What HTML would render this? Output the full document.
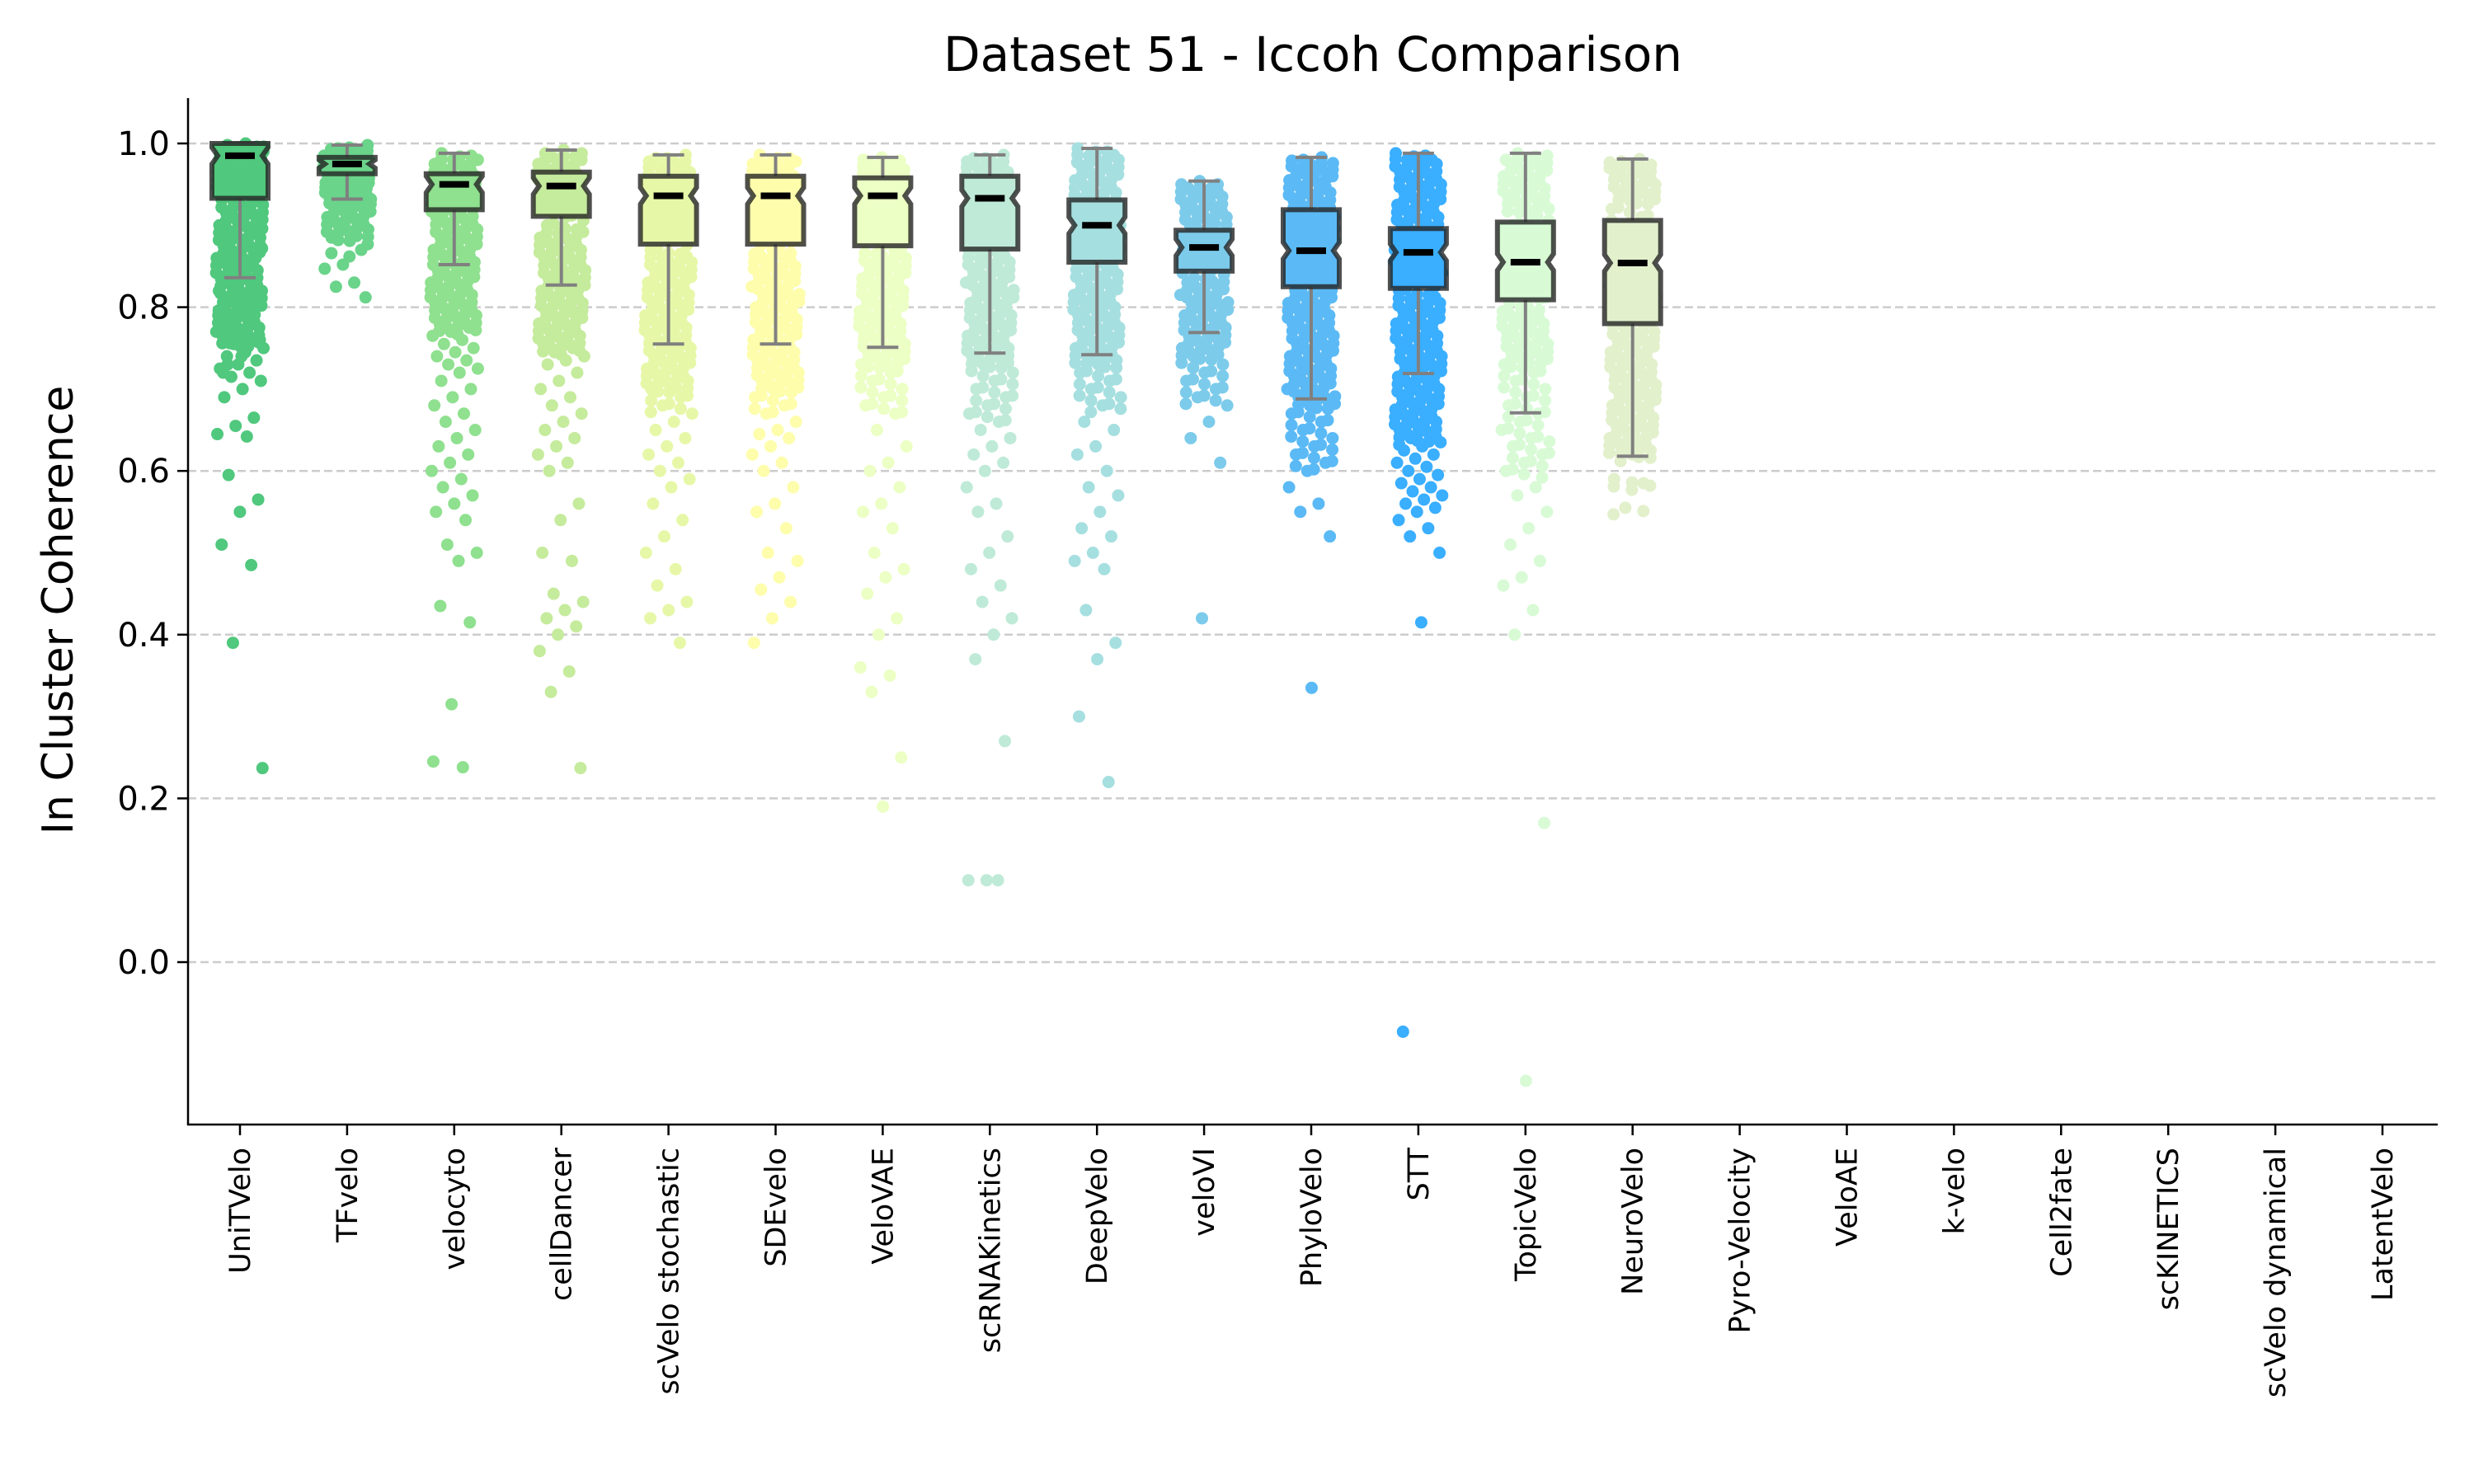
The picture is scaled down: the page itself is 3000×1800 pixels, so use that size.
<!DOCTYPE html>
<html><head><meta charset="utf-8"><title>Dataset 51 - Iccoh Comparison</title>
<style>html,body{margin:0;padding:0;background:#fff}svg{display:block}text{font-family:"DejaVu Sans","Liberation Sans",sans-serif}</style></head>
<body>
<svg id="chart" width="3000" height="1800" viewBox="0 0 3000 1800" xmlns="http://www.w3.org/2000/svg">
<rect width="3000" height="1800" fill="#fff"/>
<text x="1592" y="86" text-anchor="middle" font-size="58">Dataset 51 - Iccoh Comparison</text>
<text transform="translate(88,740) rotate(-90)" text-anchor="middle" font-size="52">In Cluster Coherence</text>
<g id="grid"></g><g id="points"></g><g id="boxes"></g><g id="axes"></g>
</svg>
<script>
const categories=["UniTVelo","TFvelo","velocyto","cellDancer","scVelo stochastic","SDEvelo","VeloVAE","scRNAKinetics","DeepVelo","veloVI","PhyloVelo","STT","TopicVelo","NeuroVelo","Pyro-Velocity","VeloAE","k-velo","Cell2fate","scKINETICS","scVelo dynamical","LatentVelo"];
const colors=["#50c87d","#6ad48a","#8fe08f","#c5eb9c","#e6f8a8","#fdfdac","#ecffc4","#bfead8","#a6dfe0","#7ccbeb","#5bbaf5","#3aaeff","#d8fbd6","#e2f0cc"];
const medians=[0.985,0.975,0.950,0.948,0.936,0.936,0.936,0.933,0.900,0.873,0.869,0.867,0.855,0.854];
const q1=[0.933,0.963,0.919,0.911,0.877,0.877,0.875,0.871,0.855,0.844,0.825,0.823,0.809,0.780];
const q3=[1.0,0.983,0.963,0.965,0.960,0.960,0.958,0.960,0.931,0.894,0.919,0.896,0.904,0.906];
const whiskLo=[0.836,0.932,0.852,0.827,0.755,0.755,0.751,0.744,0.742,0.769,0.688,0.719,0.671,0.618];
const whiskHi=[1.0,0.998,0.988,0.992,0.986,0.986,0.983,0.986,0.994,0.954,0.983,0.988,0.988,0.981];
const yTicks=[0.0,0.2,0.4,0.6,0.8,1.0];
const yTickLabels=["0.0","0.2","0.4","0.6","0.8","1.0"];
const vals0=[1.0,0.998,0.996,0.995,0.993,0.99,0.988,0.985,0.982,0.98,0.975,0.97,0.965,0.96,0.955,0.95,0.945,0.94,0.935,0.93,0.925,0.92,0.915,0.91,0.905,0.9,0.895,0.89,0.885,0.88,0.875,0.87,0.865,0.86,0.855,0.85,0.845,0.84,0.835,0.83,0.825,0.82,0.815,0.81,0.8,0.795,0.79,0.785,0.78,0.775,0.77,0.765,0.76,0.755,0.75,0.745,0.74,0.735,0.73,0.725,0.72,0.715,0.71,0.7,0.69,0.665,0.655,0.645,0.642,0.595,0.565,0.55,0.51,0.485,0.39,0.237,0.9,0.88,0.86,0.84,0.82,0.8,0.78,0.76,0.74,0.72,0.81,0.79,0.77,0.75,0.73];
const vals1=[0.998,0.995,0.993,0.99,0.988,0.985,0.983,0.98,0.978,0.975,0.972,0.97,0.968,0.965,0.962,0.96,0.958,0.955,0.952,0.95,0.948,0.945,0.942,0.94,0.937,0.935,0.932,0.93,0.925,0.92,0.915,0.91,0.905,0.9,0.895,0.89,0.885,0.87,0.852,0.847,0.83,0.825,0.812];
const vals2=[0.988,0.985,0.98,0.975,0.97,0.965,0.96,0.955,0.95,0.945,0.94,0.935,0.93,0.925,0.92,0.915,0.91,0.905,0.9,0.895,0.89,0.885,0.88,0.875,0.87,0.865,0.86,0.855,0.85,0.845,0.84,0.835,0.83,0.825,0.82,0.815,0.81,0.805,0.8,0.795,0.79,0.785,0.78,0.775,0.77,0.765,0.76,0.755,0.75,0.745,0.74,0.735,0.73,0.725,0.72,0.71,0.70,0.69,0.68,0.67,0.66,0.65,0.64,0.63,0.62,0.61,0.6,0.59,0.58,0.57,0.56,0.55,0.54,0.51,0.5,0.49,0.435,0.415,0.315,0.245,0.238];
const vals3=[0.992,0.988,0.984,0.98,0.975,0.97,0.965,0.96,0.955,0.95,0.94,0.93,0.92,0.91,0.9,0.895,0.89,0.885,0.88,0.875,0.87,0.865,0.86,0.855,0.85,0.845,0.84,0.835,0.83,0.825,0.82,0.815,0.81,0.805,0.8,0.795,0.79,0.785,0.78,0.775,0.77,0.765,0.76,0.755,0.75,0.745,0.74,0.735,0.73,0.72,0.71,0.7,0.69,0.68,0.67,0.66,0.65,0.64,0.63,0.62,0.61,0.6,0.56,0.54,0.5,0.49,0.45,0.44,0.43,0.42,0.41,0.40,0.38,0.355,0.33,0.237];
const vals4=[0.986,0.982,0.978,0.975,0.97,0.965,0.96,0.95,0.94,0.93,0.92,0.91,0.9,0.89,0.88,0.87,0.865,0.86,0.855,0.85,0.845,0.84,0.835,0.83,0.825,0.82,0.815,0.81,0.805,0.8,0.795,0.79,0.785,0.78,0.775,0.77,0.765,0.76,0.755,0.75,0.745,0.74,0.735,0.73,0.725,0.72,0.715,0.71,0.705,0.7,0.69,0.68,0.67,0.66,0.65,0.64,0.63,0.62,0.61,0.6,0.59,0.58,0.56,0.54,0.52,0.5,0.48,0.46,0.44,0.43,0.42,0.39];
const vals5=[0.986,0.982,0.978,0.975,0.97,0.965,0.96,0.95,0.94,0.93,0.92,0.91,0.9,0.89,0.88,0.87,0.865,0.86,0.855,0.85,0.845,0.84,0.835,0.83,0.825,0.82,0.815,0.81,0.805,0.8,0.795,0.79,0.785,0.78,0.775,0.77,0.765,0.76,0.755,0.75,0.745,0.74,0.735,0.73,0.725,0.72,0.715,0.71,0.705,0.7,0.69,0.68,0.67,0.66,0.65,0.645,0.64,0.63,0.62,0.61,0.6,0.58,0.56,0.55,0.53,0.5,0.49,0.47,0.455,0.44,0.42,0.39];
const vals6=[0.983,0.98,0.976,0.972,0.968,0.965,0.96,0.95,0.94,0.93,0.92,0.91,0.9,0.89,0.88,0.87,0.865,0.86,0.855,0.85,0.845,0.84,0.835,0.83,0.825,0.82,0.815,0.81,0.805,0.8,0.795,0.79,0.785,0.78,0.775,0.77,0.765,0.76,0.755,0.75,0.745,0.74,0.735,0.73,0.72,0.71,0.7,0.69,0.68,0.67,0.65,0.63,0.61,0.6,0.58,0.56,0.55,0.53,0.5,0.48,0.47,0.45,0.42,0.4,0.36,0.35,0.33,0.25,0.19];
const vals7=[0.986,0.982,0.978,0.975,0.97,0.965,0.96,0.95,0.94,0.93,0.92,0.91,0.9,0.89,0.88,0.87,0.865,0.86,0.855,0.85,0.845,0.84,0.835,0.83,0.825,0.82,0.815,0.81,0.805,0.8,0.795,0.79,0.785,0.78,0.775,0.77,0.765,0.76,0.755,0.75,0.745,0.74,0.735,0.73,0.72,0.71,0.7,0.69,0.68,0.67,0.66,0.65,0.64,0.63,0.62,0.61,0.6,0.58,0.56,0.55,0.52,0.5,0.48,0.46,0.44,0.42,0.4,0.37,0.27,0.1,0.1,0.1];
const vals8=[0.994,0.99,0.985,0.98,0.975,0.97,0.965,0.96,0.955,0.95,0.945,0.94,0.935,0.93,0.92,0.91,0.9,0.89,0.88,0.87,0.86,0.855,0.85,0.845,0.84,0.835,0.83,0.825,0.82,0.815,0.81,0.805,0.8,0.795,0.79,0.785,0.78,0.775,0.77,0.765,0.76,0.755,0.75,0.745,0.74,0.735,0.73,0.72,0.71,0.7,0.69,0.68,0.66,0.65,0.63,0.62,0.6,0.58,0.57,0.55,0.53,0.52,0.5,0.49,0.48,0.43,0.39,0.37,0.3,0.22];
const vals9=[0.954,0.95,0.945,0.94,0.935,0.93,0.925,0.92,0.915,0.91,0.905,0.9,0.89,0.88,0.87,0.86,0.85,0.84,0.835,0.83,0.825,0.82,0.815,0.81,0.805,0.8,0.795,0.79,0.785,0.78,0.775,0.77,0.765,0.76,0.755,0.75,0.745,0.74,0.73,0.72,0.71,0.7,0.69,0.68,0.66,0.64,0.61,0.42];
const vals10=[0.983,0.98,0.976,0.972,0.968,0.965,0.96,0.955,0.95,0.945,0.94,0.935,0.93,0.925,0.92,0.91,0.9,0.89,0.88,0.87,0.86,0.85,0.84,0.83,0.825,0.82,0.815,0.81,0.805,0.8,0.795,0.79,0.785,0.78,0.775,0.77,0.765,0.76,0.755,0.75,0.745,0.74,0.735,0.73,0.725,0.72,0.715,0.71,0.705,0.7,0.695,0.69,0.685,0.68,0.67,0.66,0.65,0.64,0.63,0.62,0.61,0.6,0.58,0.56,0.55,0.52,0.335];
const vals11=[0.988,0.985,0.98,0.975,0.97,0.965,0.96,0.955,0.95,0.945,0.94,0.935,0.93,0.925,0.92,0.915,0.91,0.905,0.9,0.89,0.88,0.87,0.86,0.85,0.84,0.83,0.82,0.815,0.81,0.805,0.8,0.795,0.79,0.785,0.78,0.775,0.77,0.765,0.76,0.755,0.75,0.745,0.74,0.735,0.73,0.725,0.72,0.715,0.71,0.705,0.7,0.695,0.69,0.685,0.68,0.675,0.67,0.665,0.66,0.655,0.65,0.645,0.64,0.635,0.63,0.625,0.62,0.615,0.61,0.605,0.6,0.595,0.59,0.585,0.58,0.575,0.57,0.565,0.56,0.555,0.55,0.54,0.53,0.52,0.5,0.415,-0.085];
const vals12=[0.988,0.985,0.98,0.975,0.97,0.965,0.96,0.955,0.95,0.945,0.94,0.935,0.93,0.925,0.92,0.91,0.9,0.89,0.88,0.87,0.86,0.85,0.84,0.83,0.82,0.81,0.8,0.795,0.79,0.785,0.78,0.775,0.77,0.765,0.76,0.755,0.75,0.745,0.74,0.735,0.73,0.72,0.71,0.7,0.69,0.68,0.67,0.66,0.65,0.64,0.63,0.62,0.61,0.6,0.58,0.57,0.55,0.53,0.51,0.49,0.47,0.46,0.43,0.4,0.17,-0.145];
const vals13=[0.981,0.978,0.974,0.97,0.965,0.96,0.955,0.95,0.945,0.94,0.935,0.93,0.92,0.91,0.9,0.89,0.88,0.87,0.86,0.85,0.84,0.83,0.82,0.81,0.8,0.79,0.78,0.775,0.77,0.765,0.76,0.755,0.75,0.745,0.74,0.735,0.73,0.725,0.72,0.715,0.71,0.705,0.7,0.695,0.69,0.685,0.68,0.675,0.67,0.665,0.66,0.655,0.65,0.645,0.64,0.635,0.63,0.625,0.62,0.59,0.585,0.555];
const groupValues=[vals0,vals1,vals2,vals3,vals4,vals5,vals6,vals7,vals8,vals9,vals10,vals11,vals12,vals13];

const NS="http://www.w3.org/2000/svg";
const X0=228,X1=2956,YTOP=119,YBOT=1364;
const yScale=v=>1167-v*993;
const xScale=i=>291+i*129.9;
function mk(tag,attrs,parent){const e=document.createElementNS(NS,tag);for(const k in attrs)e.setAttribute(k,attrs[k]);parent.appendChild(e);return e;}
const grid=document.getElementById('grid'),pts=document.getElementById('points'),bx=document.getElementById('boxes'),ax=document.getElementById('axes');

yTicks.forEach((t,i)=>{
  const y=yScale(t);
  const g=mk('line',{x1:X0,x2:X1,y1:y,y2:y,stroke:'#cccccc','stroke-width':2.5,'stroke-dasharray':'10,5'},grid);
  
  
  const tk=mk('line',{x1:X0-13,x2:X0,y1:y,y2:y,stroke:'#000','stroke-width':2.5},ax);
  
  
  const tl=mk('text',{x:X0-22,y:y+14,'text-anchor':'end','font-size':40},ax);
  tl.textContent=yTickLabels[i];
  
  
});

groupValues.forEach((vals,gi)=>{
  const cx=xScale(gi);
  vals.forEach((v,i)=>{
    const inside=v>=whiskLo[gi]-0.08;
    const copies=inside?3:1;
    for(let k=0;k<copies;k++){
      const j=(((i+1)*0.618034+gi*0.31+k*0.377)%1-0.5)*58;
      const dy=k*4;
      const c=mk('circle',{cx:cx+j,cy:yScale(v)+dy,r:7.5,fill:colors[gi]},pts);
      
      
    }
  });
});

groupValues.forEach((vals,gi)=>{
  const cx=xScale(gi),hw=34,nw=27;
  const g=mk('g',{},bx);
  
  
  mk('line',{x1:cx,x2:cx,y1:yScale(q3[gi]),y2:yScale(whiskHi[gi]),stroke:'#808080','stroke-width':4},g);
  mk('line',{x1:cx,x2:cx,y1:yScale(q1[gi]),y2:yScale(whiskLo[gi]),stroke:'#808080','stroke-width':4},g);
  mk('line',{x1:cx-19,x2:cx+19,y1:yScale(whiskHi[gi]),y2:yScale(whiskHi[gi]),stroke:'#808080','stroke-width':4},g);
  mk('line',{x1:cx-19,x2:cx+19,y1:yScale(whiskLo[gi]),y2:yScale(whiskLo[gi]),stroke:'#808080','stroke-width':4},g);
  const yt=yScale(q3[gi]),yb=yScale(q1[gi]),ym=yScale(medians[gi]);
  const nh=Math.min(10,(yb-yt)/4);
  const d=`M${cx-hw},${yt} L${cx+hw},${yt} L${cx+hw},${ym-nh} L${cx+nw},${ym} L${cx+hw},${ym+nh} L${cx+hw},${yb} L${cx-hw},${yb} L${cx-hw},${ym+nh} L${cx-nw},${ym} L${cx-hw},${ym-nh} Z`;
  mk('path',{d:d,fill:colors[gi],stroke:'rgba(35,35,35,0.8)','stroke-width':6},g);
  mk('line',{x1:cx-18,x2:cx+18,y1:ym,y2:ym,stroke:'#000','stroke-width':8},g);
});

const sl=mk('line',{x1:X0,x2:X0,y1:YTOP,y2:YBOT+1,stroke:'#000','stroke-width':2.5},ax);


const sb=mk('line',{x1:X0-1,x2:X1,y1:YBOT,y2:YBOT,stroke:'#000','stroke-width':2.5},ax);


categories.forEach((c,i)=>{
  const x=xScale(i);
  const tk=mk('line',{x1:x,x2:x,y1:YBOT,y2:YBOT+13,stroke:'#000','stroke-width':2.5},ax);
  
  
  const t=mk('text',{transform:`translate(${x+12},1392) rotate(-90)`,'text-anchor':'end','font-size':35},ax);
  t.textContent=c;
  
  
});
</script>
</body></html>
